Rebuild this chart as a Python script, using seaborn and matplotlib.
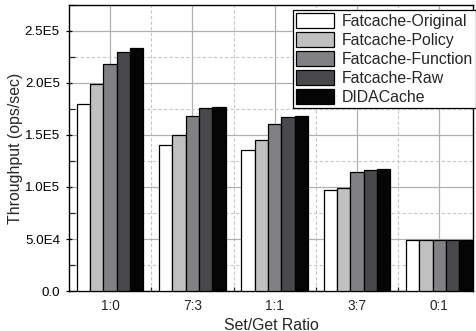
import numpy as np
import pandas as pd
import seaborn as sns
import matplotlib
matplotlib.use("Agg")
import matplotlib.pyplot as plt
from matplotlib.ticker import FixedLocator, MultipleLocator

# Throughput per Set/Get ratio for each cache variant
ratios = ["1:0", "7:3", "1:1", "3:7", "0:1"]
series = ["Fatcache-Original", "Fatcache-Policy", "Fatcache-Function",
          "Fatcache-Raw", "DIDACache"]
original = [180000, 140700, 135900, 97100, 49000]
policy = [198700, 150000, 144900, 99000, 49000]
function = [218300, 168600, 160600, 114700, 49000]
raw = [229800, 175700, 167000, 116300, 49000]
didacache = [234000, 176600, 168300, 117300, 49000]
colors = ["#ffffff", "#c1c0c1", "#818184", "#49494b", "#050505"]

ytick_values = [0, 50000, 100000, 150000, 200000, 250000]
ytick_labels = ["0.0", "5.0E4", "1.0E5", "1.5E5", "2.0E5", "2.5E5"]

rows = []
for name, vals in zip(series, [original, policy, function, raw, didacache]):
    for r, v in zip(ratios, vals):
        rows.append({"ratio": r, "series": name, "throughput": v})
df = pd.DataFrame(rows)

sns.set_style("white")
plt.rcParams["font.family"] = ["Liberation Sans", "DejaVu Sans"]

fig = plt.figure(figsize=(4.77, 3.31), dpi=100)
ax = fig.add_axes([0.1447, 0.1208, 0.8469, 0.8642])

sns.barplot(data=df, x="ratio", y="throughput", hue="series",
            order=ratios, hue_order=series, palette=colors, saturation=1,
            width=0.81, edgecolor="black", linewidth=0.9, ax=ax, zorder=3)

ax.set_xlim(-0.5, 4.41)
ax.set_ylim(0, 275000)

ax.yaxis.set_major_locator(FixedLocator(ytick_values))
ax.set_yticks(ytick_values)
ax.set_yticklabels(ytick_labels)
ax.yaxis.set_minor_locator(MultipleLocator(25000))
ax.xaxis.set_minor_locator(FixedLocator([0.5, 1.5, 2.5, 3.5]))

ax.grid(True, which="major", color="#b0b0b0", linewidth=0.9, linestyle="-", zorder=0)
ax.grid(True, which="minor", color="#c8c8c8", linewidth=0.8, linestyle=(0, (3, 2)), zorder=0)
ax.set_axisbelow(True)

ax.tick_params(axis="y", which="major", direction="inout", length=5, width=0.9,
               labelsize=9.6, pad=4, left=True, colors="black")
ax.tick_params(axis="y", which="minor", direction="in", length=4, width=0.9, left=True)
ax.tick_params(axis="x", which="major", direction="in", length=5, width=0.9,
               labelsize=9.8, pad=6, bottom=True)
ax.tick_params(axis="x", which="minor", direction="in", length=3, width=0.9, bottom=True)

for side in ["left", "bottom", "top", "right"]:
    ax.spines[side].set_visible(True)
    ax.spines[side].set_color("black")
    ax.spines[side].set_linewidth(1.0)

ax.set_xlabel("Set/Get Ratio", fontsize=11.4, labelpad=3)
ax.set_ylabel("Throughput (ops/sec)", fontsize=11.4, labelpad=1.5)

leg = ax.legend(loc="upper right", bbox_to_anchor=(476 / 477, 1 - 10 / 331),
                bbox_transform=fig.transFigure, borderaxespad=0,
                fontsize=11.4, handlelength=2.4, handleheight=1.05,
                labelspacing=0.2, handletextpad=0.45, borderpad=0.2,
                fancybox=False, framealpha=1, edgecolor="black")
leg.get_frame().set_linewidth(0.9)

fig.savefig("out.png", dpi=100)
